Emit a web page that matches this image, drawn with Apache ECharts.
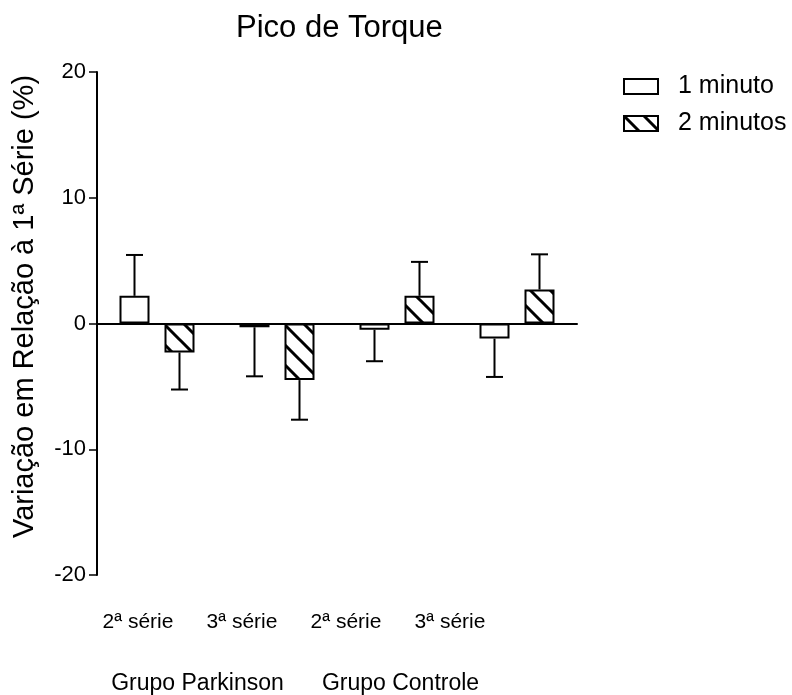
<!DOCTYPE html>
<html>
<head>
<meta charset="utf-8">
<script src="https://cdn.jsdelivr.net/npm/echarts@6/dist/echarts.min.js"></script>
<style>
  html, body { margin: 0; background: #fff; }
  #chart { width: 792px; height: 695px; }
</style>
</head>
<body>
<div id="chart"></div>
<script>
// data
const categories = ['Parkinson 2ª', 'Parkinson 3ª', 'Controle 2ª', 'Controle 3ª'];
const serieLabels = ['2ª série', '3ª série', '2ª série', '3ª série'];
const groupLabels = ['Grupo Parkinson', 'Grupo Controle'];
const oneMinute = [2.2, -0.3, -0.5, -1.2];
const oneMinuteSd = [3.25, 3.9, 2.5, 3.05];
const twoMinutes = [-2.3, -4.5, 2.2, 2.7];
const twoMinutesSd = [2.95, 3.15, 2.7, 2.8];
const yMin = -20, yMax = 20, yStep = 10;

const font = '"Liberation Sans", Arial, sans-serif';
const barW = 30;
const shift = 22.5; // half distance between the two bars of a group

function hatch() {
  const c = document.createElement('canvas');
  c.width = 20; c.height = 20;
  const g = c.getContext('2d');
  g.fillStyle = '#fff';
  g.fillRect(0, 0, 20, 20);
  g.strokeStyle = '#000';
  g.lineWidth = 3;
  g.beginPath();
  g.moveTo(-5, -5); g.lineTo(25, 25);
  g.moveTo(-5, 15); g.lineTo(5, 25);
  g.moveTo(15, -5); g.lineTo(25, 5);
  g.stroke();
  return c;
}

function errorBars(means, sds, offset) {
  return {
    type: 'custom',
    z: 3,
    silent: true,
    data: means.map((m, i) => [i, m, sds[i]]),
    encode: { x: 0, y: 1 },
    renderItem: (params, api) => {
      const i = api.value(0), m = api.value(1), sd = api.value(2);
      const end = m >= 0 ? m + sd : m - sd;
      const p0 = api.coord([i, m]);
      const p1 = api.coord([i, end]);
      const x = p0[0] + offset;
      const st = { stroke: '#000', lineWidth: 2 };
      return {
        type: 'group',
        children: [
          { type: 'line', shape: { x1: x, y1: p0[1], x2: x, y2: p1[1] }, style: st },
          { type: 'line', shape: { x1: x - 8.5, y1: p1[1], x2: x + 8.5, y2: p1[1] }, style: st }
        ]
      };
    }
  };
}

const chart = echarts.init(document.getElementById('chart'));
chart.setOption({
  backgroundColor: '#fff',
  animation: false,
  textStyle: { fontFamily: font, color: '#000' },
  title: {
    text: 'Pico de Torque',
    left: 231,
    top: 8,
    textStyle: { fontFamily: font, fontSize: 31, fontWeight: 'normal', color: '#000' }
  },
  legend: {
    orient: 'vertical',
    left: 618,
    top: 69,
    itemWidth: 34,
    itemHeight: 15,
    itemGap: 12,
    icon: 'rect',
    data: ['1 minuto', '2 minutos'],
    textStyle: { fontFamily: font, fontSize: 25, color: '#000', padding: [0, 0, 0, 15] }
  },
  grid: [
    { left: 97, right: 215, top: 72, bottom: 120, outerBoundsMode: 'none' },
    { left: 86, width: 416, top: 72, bottom: 120, outerBoundsMode: 'none' },
    { left: 96, width: 406, top: 72, bottom: 120, outerBoundsMode: 'none' }
  ],
  xAxis: [
    {
      type: 'category',
      gridIndex: 0,
      data: categories,
      axisLine: { onZero: true, lineStyle: { color: '#000', width: 2 } },
      axisTick: { alignWithLabel: true, length: 9, lineStyle: { color: '#000', width: 1.5 } },
      axisLabel: { show: false }
    },
    {
      type: 'category',
      gridIndex: 1,
      data: serieLabels,
      axisLine: { show: false },
      axisTick: { show: false },
      axisLabel: { interval: 0, margin: 37, fontSize: 21, color: '#000', fontFamily: font }
    },
    {
      type: 'category',
      gridIndex: 2,
      data: groupLabels,
      axisLine: { show: false },
      axisTick: { show: false },
      axisLabel: { interval: 0, margin: 97, fontSize: 23, color: '#000', fontFamily: font }
    }
  ],
  yAxis: [
    {
      type: 'value',
      gridIndex: 0,
      min: yMin,
      max: yMax,
      interval: yStep,
      name: 'Variação em Relação à 1ª Série (%)',
      nameLocation: 'middle',
      nameGap: 58,
      nameTextStyle: { fontFamily: font, fontSize: 29, color: '#000', padding: [0, 0, 0, 34] },
      axisLine: { show: true, lineStyle: { color: '#000', width: 2 } },
      axisTick: { show: true, length: 8, lineStyle: { color: '#000', width: 1.5 } },
      axisLabel: { margin: 11, fontSize: 22, color: '#000', fontFamily: font },
      splitLine: { show: false }
    },
    { type: 'value', gridIndex: 1, show: false },
    { type: 'value', gridIndex: 2, show: false }
  ],
  series: [
    {
      name: '1 minuto',
      type: 'bar',
      data: oneMinute,
      barWidth: barW,
      barGap: '50%',
      itemStyle: { color: '#fff', borderColor: '#000', borderWidth: 2 }
    },
    {
      name: '2 minutos',
      type: 'bar',
      data: twoMinutes,
      barWidth: barW,
      barGap: '50%',
      itemStyle: { color: { image: hatch(), repeat: 'repeat' }, borderColor: '#000', borderWidth: 2 }
    },
    errorBars(oneMinute, oneMinuteSd, -shift),
    errorBars(twoMinutes, twoMinutesSd, shift)
  ]
});
</script>
</body>
</html>
